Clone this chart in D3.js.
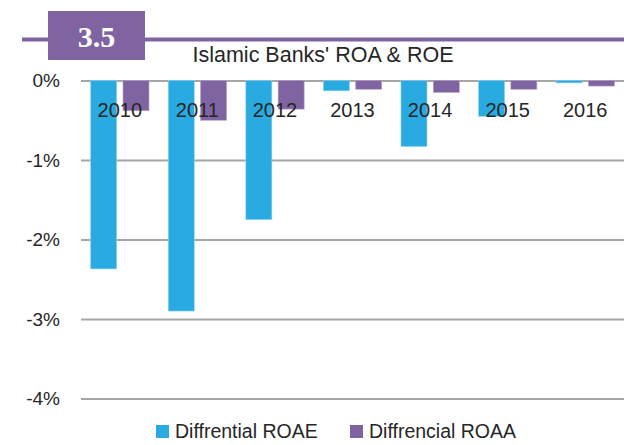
<!DOCTYPE html>
<html>
<head>
<meta charset="utf-8">
<script src="https://cdn.jsdelivr.net/npm/d3@7/dist/d3.min.js"></script>
<style>
  html, body { margin: 0; padding: 0; background: #fff; }
  svg { display: block; font-family: "Liberation Sans", Arial, sans-serif; }
</style>
</head>
<body>
<svg id="chart" width="624" height="445"></svg>
<script>
// Chart data
const years = ["2010", "2011", "2012", "2013", "2014", "2015", "2016"];
const roae = [-2.37, -2.90, -1.75, -0.13, -0.83, -0.45, -0.03];
const roaa = [-0.38, -0.50, -0.36, -0.11, -0.15, -0.11, -0.07];
const seriesNames = ["Diffrential ROAE", "Diffrencial ROAA"];
const yTicks = [0, -1, -2, -3, -4];

const colors = ["#29abe2", "#8064a2"];
const textColor = "#262626";

const svg = d3.select("#chart");

// Plot area
const plotLeft = 81, plotRight = 624, plotTop = 80.5, plotBottom = 398.5;

const x = d3.scaleBand().domain(years).range([plotLeft, plotRight]).paddingInner(0).paddingOuter(0);
const xInner = d3.scaleBand().domain([0, 1]).range([9.7, 68]).paddingInner(0.195);
const y = d3.scaleLinear().domain([0, -4]).range([plotTop, plotBottom]);

// Header: purple rule with numbered box
svg.append("line")
  .attr("x1", 22).attr("x2", 624).attr("y1", 39.5).attr("y2", 39.5)
  .attr("stroke", "#8064a2").attr("stroke-width", 4);
svg.append("rect")
  .attr("x", 48).attr("y", 11).attr("width", 97).attr("height", 49)
  .attr("fill", "#8064a2");
svg.append("text")
  .attr("x", 96.5).attr("y", 47)
  .attr("text-anchor", "middle")
  .attr("fill", "#fff")
  .attr("font-family", "'Liberation Serif', 'Times New Roman', serif")
  .attr("font-weight", "bold")
  .attr("font-size", 30)
  .text("3.5");

// Title
svg.append("text")
  .attr("x", 323).attr("y", 62)
  .attr("text-anchor", "middle")
  .attr("fill", textColor)
  .attr("font-size", 21.5)
  .text("Islamic Banks' ROA & ROE");

// Gridlines and y-axis labels
const yAxis = d3.axisLeft(y)
  .tickValues(yTicks)
  .tickSize(-(plotRight - plotLeft))
  .tickPadding(21)
  .tickFormat(d => (d === 0 ? "0%" : "-" + Math.abs(d) + "%"));

const gAxis = svg.append("g")
  .attr("transform", `translate(${plotLeft},0)`)
  .call(yAxis);
gAxis.select(".domain").remove();
gAxis.selectAll(".tick line").attr("stroke", "#a6a6a6").attr("stroke-width", 2);
gAxis.selectAll(".tick text")
  .attr("fill", textColor)
  .attr("font-size", 19)
  .attr("font-family", "'Liberation Sans', Arial, sans-serif");

// Bars
const series = [roae, roaa];
series.forEach((vals, si) => {
  svg.append("g")
    .selectAll("rect")
    .data(vals)
    .join("rect")
    .attr("x", (d, i) => x(years[i]) + xInner(si))
    .attr("y", y(0))
    .attr("width", xInner.bandwidth())
    .attr("height", d => y(d) - y(0))
    .attr("fill", colors[si])
    .attr("stroke", si === 0 ? "#8fd3f1" : "#b3a2c7")
    .attr("stroke-width", 0.6);
});

// Category labels placed just below the zero line
svg.append("g")
  .selectAll("text")
  .data(years)
  .join("text")
  .attr("x", d => x(d) + x.bandwidth() / 2)
  .attr("y", 117)
  .attr("text-anchor", "middle")
  .attr("fill", textColor)
  .attr("font-size", 20)
  .text(d => d);

// Legend
const legendItems = [
  { name: seriesNames[0], color: colors[0], x: 156 },
  { name: seriesNames[1], color: colors[1], x: 350 }
];
const lg = svg.append("g");
legendItems.forEach(item => {
  lg.append("rect")
    .attr("x", item.x).attr("y", 425)
    .attr("width", 13).attr("height", 13)
    .attr("fill", item.color);
  lg.append("text")
    .attr("x", item.x + 19).attr("y", 438)
    .attr("fill", textColor)
    .attr("font-size", 19.5)
    .text(item.name);
});
</script>
</body>
</html>
